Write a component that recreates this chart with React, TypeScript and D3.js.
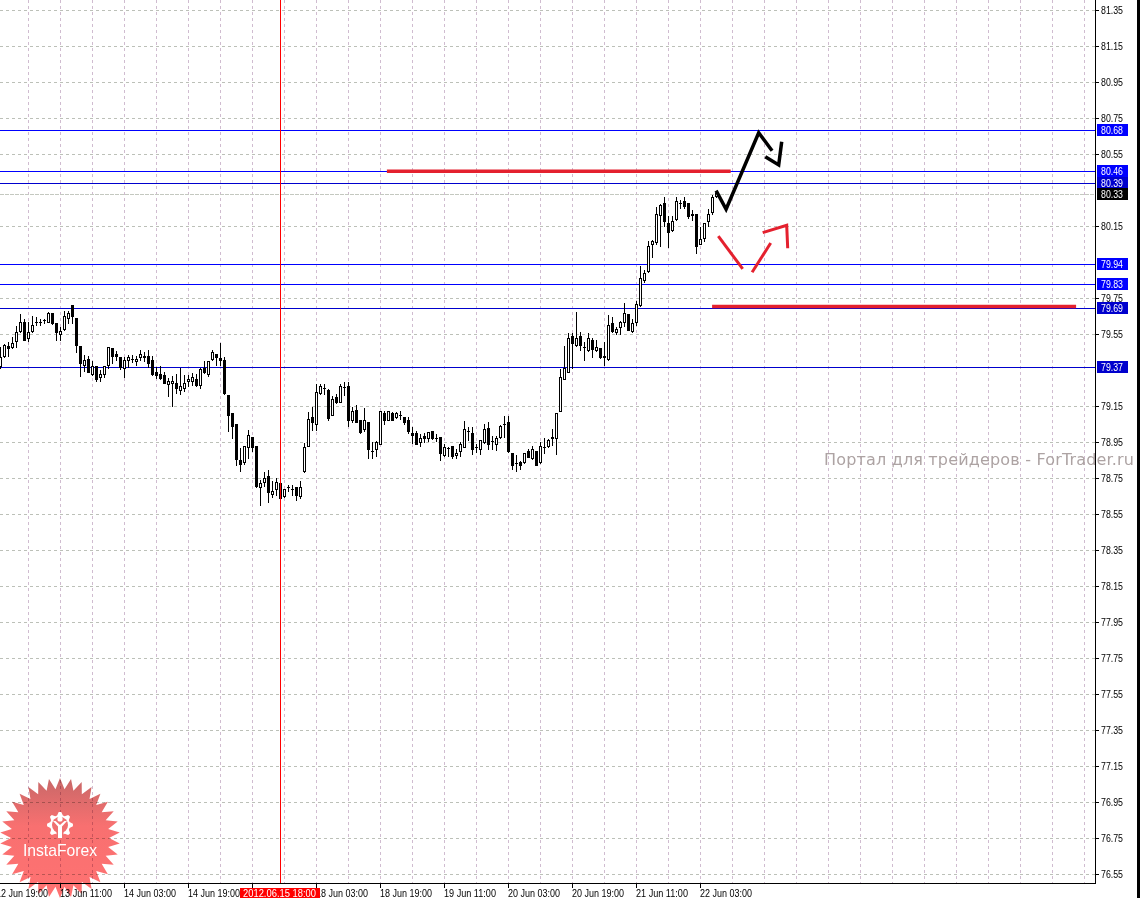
import React from "react";
import * as d3 from "d3";

// hourly bars, oldest first
const opens = [
  79.363, 79.419, 79.474, 79.470, 79.502, 79.556, 79.609, 79.519, 79.558, 79.606,
  79.609, 79.620, 79.607, 79.656, 79.604, 79.541, 79.569, 79.630, 79.704, 79.632,
  79.474, 79.369, 79.404, 79.319, 79.363, 79.304, 79.319, 79.367, 79.465, 79.433,
  79.415, 79.354, 79.400, 79.402, 79.393, 79.415, 79.422, 79.419, 79.395, 79.333,
  79.322, 79.313, 79.263, 79.269, 79.270, 79.230, 79.241, 79.280, 79.282, 79.293,
  79.256, 79.354, 79.317, 79.404, 79.432, 79.406, 79.395, 79.204, 79.104, 79.043,
  78.844, 78.830, 78.915, 78.970, 78.922, 78.693, 78.719, 78.754, 78.652, 78.681,
  78.715, 78.641, 78.691, 78.683, 78.693, 78.641, 78.781, 78.918, 79.081, 79.040,
  79.213, 79.244, 79.233, 79.090, 79.192, 79.165, 79.246, 79.255, 79.066, 79.120,
  79.066, 79.013, 79.055, 78.892, 78.902, 78.931, 79.103, 79.066, 79.103, 79.081,
  79.094, 79.081, 79.064, 78.992, 78.992, 78.940, 78.974, 78.966, 79.003, 78.963,
  78.972, 78.870, 78.911, 78.920, 78.868, 78.889, 78.916, 79.002, 78.992, 78.913,
  78.902, 78.940, 79.020, 78.946, 78.931, 78.968, 79.042, 79.053, 78.883, 78.824,
  78.831, 78.829, 78.892, 78.853, 78.894, 78.831, 78.916, 78.918, 78.970, 78.964,
  79.114, 79.292, 79.333, 79.533, 79.479, 79.533, 79.468, 79.455, 79.511, 79.453,
  79.466, 79.422, 79.403, 79.603, 79.552, 79.581, 79.609, 79.655, 79.557, 79.609,
  79.702, 79.839, 79.890, 80.040, 80.051, 80.201, 80.270, 80.159, 80.118, 80.179,
  80.270, 80.283, 80.270, 80.209, 80.209, 80.040, 80.077, 80.168, 80.220, 80.309,
];
const highs = [
  79.474, 79.493, 79.502, 79.533, 79.591, 79.656, 79.632, 79.613, 79.645, 79.641,
  79.632, 79.632, 79.672, 79.656, 79.604, 79.585, 79.674, 79.674, 79.706, 79.632,
  79.474, 79.433, 79.424, 79.395, 79.367, 79.345, 79.367, 79.470, 79.465, 79.452,
  79.419, 79.419, 79.432, 79.432, 79.424, 79.459, 79.446, 79.456, 79.424, 79.363,
  79.367, 79.335, 79.304, 79.315, 79.326, 79.359, 79.322, 79.322, 79.330, 79.326,
  79.359, 79.395, 79.395, 79.456, 79.432, 79.496, 79.419, 79.206, 79.104, 79.043,
  78.915, 78.922, 79.015, 78.970, 78.922, 78.737, 78.780, 78.789, 78.730, 78.746,
  78.719, 78.687, 78.706, 78.711, 78.696, 78.733, 78.941, 79.113, 79.140, 79.270,
  79.270, 79.270, 79.242, 79.205, 79.214, 79.270, 79.279, 79.283, 79.144, 79.153,
  79.066, 79.137, 79.055, 78.946, 78.952, 79.122, 79.118, 79.116, 79.113, 79.116,
  79.118, 79.085, 79.085, 79.029, 79.011, 78.992, 78.996, 79.002, 79.007, 78.992,
  78.972, 78.937, 78.918, 78.922, 78.909, 78.946, 79.066, 79.033, 79.029, 78.937,
  78.955, 79.048, 79.057, 78.983, 78.983, 79.039, 79.094, 79.094, 78.885, 78.877,
  78.844, 78.885, 78.909, 78.927, 78.900, 78.946, 78.970, 78.964, 79.020, 79.103,
  79.353, 79.483, 79.552, 79.555, 79.672, 79.557, 79.502, 79.553, 79.524, 79.515,
  79.466, 79.502, 79.655, 79.640, 79.585, 79.622, 79.720, 79.659, 79.631, 79.733,
  79.927, 79.903, 80.063, 80.070, 80.251, 80.270, 80.311, 80.205, 80.205, 80.311,
  80.292, 80.311, 80.274, 80.237, 80.209, 80.140, 80.163, 80.242, 80.322, 80.344,
];
const lows = [
  79.354, 79.413, 79.419, 79.465, 79.469, 79.552, 79.507, 79.502, 79.552, 79.591,
  79.591, 79.604, 79.606, 79.600, 79.507, 79.507, 79.563, 79.604, 79.604, 79.441,
  79.311, 79.335, 79.330, 79.315, 79.280, 79.280, 79.302, 79.352, 79.378, 79.400,
  79.348, 79.302, 79.359, 79.387, 79.367, 79.396, 79.394, 79.359, 79.315, 79.298,
  79.294, 79.267, 79.200, 79.141, 79.215, 79.211, 79.224, 79.252, 79.256, 79.252,
  79.241, 79.326, 79.311, 79.400, 79.367, 79.367, 79.211, 79.002, 78.965, 78.813,
  78.780, 78.817, 78.854, 78.891, 78.693, 78.589, 78.696, 78.611, 78.637, 78.650,
  78.626, 78.637, 78.672, 78.646, 78.619, 78.630, 78.777, 78.918, 79.011, 79.011,
  79.211, 79.211, 79.066, 79.089, 79.159, 79.163, 79.205, 79.029, 79.055, 79.052,
  78.989, 79.002, 78.852, 78.852, 78.866, 78.928, 79.039, 79.063, 79.063, 79.076,
  79.072, 79.044, 78.992, 78.937, 78.928, 78.918, 78.940, 78.948, 78.959, 78.946,
  78.840, 78.863, 78.863, 78.853, 78.853, 78.863, 78.913, 78.955, 78.877, 78.885,
  78.877, 78.937, 78.903, 78.905, 78.900, 78.964, 78.970, 78.885, 78.789, 78.779,
  78.789, 78.826, 78.859, 78.850, 78.813, 78.826, 78.881, 78.914, 78.927, 78.877,
  79.113, 79.289, 79.329, 79.353, 79.474, 79.455, 79.400, 79.446, 79.414, 79.446,
  79.409, 79.368, 79.400, 79.552, 79.544, 79.539, 79.585, 79.563, 79.553, 79.589,
  79.700, 79.829, 79.885, 79.968, 80.039, 80.029, 80.140, 80.026, 80.116, 80.174,
  80.242, 80.242, 80.187, 80.177, 79.989, 80.039, 80.057, 80.140, 80.207, 80.303,
];
const closes = [
  79.415, 79.480, 79.465, 79.493, 79.554, 79.609, 79.507, 79.554, 79.593, 79.606,
  79.609, 79.620, 79.659, 79.604, 79.552, 79.561, 79.643, 79.659, 79.641, 79.480,
  79.380, 79.395, 79.330, 79.363, 79.289, 79.317, 79.363, 79.470, 79.422, 79.419,
  79.357, 79.395, 79.415, 79.402, 79.404, 79.432, 79.415, 79.378, 79.317, 79.313,
  79.300, 79.267, 79.282, 79.282, 79.241, 79.254, 79.270, 79.294, 79.304, 79.261,
  79.345, 79.330, 79.393, 79.443, 79.413, 79.400, 79.213, 79.091, 79.030, 78.850,
  78.820, 78.919, 78.982, 78.913, 78.700, 78.715, 78.743, 78.665, 78.670, 78.720,
  78.630, 78.681, 78.691, 78.683, 78.650, 78.693, 78.915, 79.070, 79.052, 79.220,
  79.253, 79.244, 79.077, 79.181, 79.166, 79.252, 79.246, 79.063, 79.114, 79.052,
  79.000, 79.064, 78.902, 78.892, 78.942, 79.116, 79.066, 79.114, 79.066, 79.103,
  79.094, 79.052, 79.002, 78.979, 78.929, 78.964, 78.964, 78.996, 78.966, 78.963,
  78.879, 78.916, 78.911, 78.863, 78.881, 78.931, 79.014, 79.002, 78.902, 78.913,
  78.953, 79.014, 78.931, 78.946, 78.964, 79.031, 79.042, 78.889, 78.815, 78.824,
  78.816, 78.881, 78.861, 78.905, 78.816, 78.918, 78.916, 78.955, 78.963, 79.103,
  79.303, 79.353, 79.520, 79.490, 79.518, 79.479, 79.468, 79.520, 79.461, 79.470,
  79.413, 79.413, 79.594, 79.557, 79.570, 79.607, 79.659, 79.566, 79.603, 79.709,
  79.853, 79.881, 80.033, 80.059, 80.209, 80.259, 80.168, 80.107, 80.170, 80.283,
  80.270, 80.255, 80.198, 80.201, 80.029, 80.070, 80.159, 80.209, 80.303, 80.326,
];

// 80.35, 79.95 and 79.35 do not show on the reference axis
const priceTicks = [
  81.35, 81.15, 80.95, 80.75, 80.55, 80.15, 79.75, 79.55, 79.15,
  78.95, 78.75, 78.55, 78.35, 78.15, 77.95, 77.75, 77.55, 77.35, 77.15, 76.95, 76.75, 76.55,
];

// horizontal levels with their price-box colour
const levelPrices = [80.683, 80.456, 80.389, 80.328, 79.939, 79.828, 79.694, 79.367];
const levelColors = ["#0000ff", "#0000ff", "#0000cd", "#000000", "#0000ff", "#0000ff", "#0000cd", "#0000cd"];

const timeBars = [-1, 15, 31, 47, 79, 95, 111, 127, 143, 159, 175];
const timeLabels = [
  "12 Jun 19:00", "13 Jun 11:00", "14 Jun 03:00", "14 Jun 19:00", "18 Jun 03:00", "18 Jun 19:00",
  "19 Jun 11:00", "20 Jun 03:00", "20 Jun 19:00", "21 Jun 11:00", "22 Jun 03:00",
];
const cursorBar = 70;
const cursorLabel = "2012.06.15 18:00";

// hand drawn forecast strokes as [bar, price]
const blackStrokes = [
  [[178.9, 80.349], [181.4, 80.246], [189.55, 80.671], [192.9, 80.571]],
  [[191.2, 80.538], [194.55, 80.492], [195.3, 80.621]],
];
const redStrokes = [
  [[179.45, 80.097], [185.55, 79.914]],
  [[187.9, 79.896], [192.55, 80.058]],
  [[190.55, 80.116], [196.55, 80.157], [196.8, 80.029]],
];
const redLevels = [
  [96.6, 182.55, 80.457],
  [177.9, 268.9, 79.706],
];

const WIDTH = 1140;
const HEIGHT = 898;
const AXIS_X = 1095;
const AXIS_Y = 883;
const FONT = "'Liberation Sans', sans-serif";
const LABEL_SIZE = 10.5;

const x = d3.scaleLinear().domain([0, 10]).range([0.5, 40.5]);
const y = d3.scaleLinear().domain([81.35, 76.55]).range([10.5, 874.5]);

// the bars were read 1.5px off the tick calibration
const BAR_SHIFT = 0.0083;
const snap = (v: number) => Math.floor(v) + 0.5;
const barY = (p: number) => snap(y(p + BAR_SHIFT));

const gridBars = d3.range(7, 272, 8);
const strokeLine = d3
  .line<number[]>()
  .x((d) => x(d[0]))
  .y((d) => y(d[1]))
  .curve(d3.curveLinear);

// badge outline
const BADGE_CX = 60;
const BADGE_CY = 838;
const badgeSpikes = 34;
const badgePoints = d3.range(badgeSpikes * 2).map((i) => [
  (i * Math.PI) / badgeSpikes,
  i % 2 === 0 ? 60 : 49,
]);
const badgePath = d3.lineRadial<number[]>().angle((d) => d[0]).radius((d) => d[1]).curve(d3.curveLinearClosed)(badgePoints as any) as string;

const gearTeeth = 8;
const gearPoints = d3.range(gearTeeth * 4).map((i) => {
  const a = (i * Math.PI * 2) / (gearTeeth * 4) - 0.1;
  return [a, i % 4 < 2 ? 13 : 10];
});
const gearPath = d3.lineRadial<number[]>().angle((d) => d[0]).radius((d) => d[1]).curve(d3.curveLinearClosed)(gearPoints as any) as string;

export default function App() {
  return (
    <svg
      width={WIDTH}
      height={HEIGHT}
      viewBox={`0 0 ${WIDTH} ${HEIGHT}`}
      style={{ position: "absolute", left: 0, top: 0, background: "#fff", display: "block" }}
    >
      <defs>
        <linearGradient id="badgeFill" x1="0" y1="0" x2="0" y2="1">
          <stop offset="0" stopColor="#c86868" />
          <stop offset="0.4" stopColor="#f87070" />
          <stop offset="1" stopColor="#ff7272" />
        </linearGradient>
      </defs>

      {/* grid */}
      <g shapeRendering="crispEdges" strokeWidth={1}>
        {gridBars.map((b) => (
          <line key={b} x1={x(b)} x2={x(b)} y1={0} y2={AXIS_Y} stroke="#d0bcd0" strokeDasharray="3 3" />
        ))}
        {priceTicks.map((p) => (
          <line key={p} x1={0} x2={AXIS_X} y1={snap(y(p))} y2={snap(y(p))} stroke="#bcc0b8" strokeDasharray="3 3" />
        ))}
      </g>

      {/* levels */}
      <g shapeRendering="crispEdges">
        {levelPrices.map((p, i) => (
          <line
            key={p}
            x1={0}
            x2={AXIS_X}
            y1={snap(y(p))}
            y2={snap(y(p))}
            stroke={levelColors[i] === "#000000" ? "#c4c8c0" : levelColors[i]}
            strokeDasharray={levelColors[i] === "#000000" ? "4 1" : undefined}
          />
        ))}
      </g>

      {/* candles */}
      <g shapeRendering="crispEdges" stroke="#000" strokeWidth={1}>
        {opens.map((o, i) => {
          const cx = x(i);
          const c = closes[i];
          const top = barY(Math.max(o, c));
          const bot = barY(Math.min(o, c));
          return (
            <g key={i}>
              <line x1={cx} x2={cx} y1={barY(highs[i])} y2={barY(lows[i])} />
              {top === bot ? (
                <line x1={cx - 1.5} x2={cx + 1.5} y1={top} y2={top} />
              ) : (
                <rect x={cx - 1} y={top} width={2} height={bot - top} fill={c < o ? "#000" : "#fff"} />
              )}
            </g>
          );
        })}
      </g>

      {/* cursor line */}
      <line x1={x(cursorBar)} x2={x(cursorBar)} y1={0} y2={AXIS_Y} stroke="#ff0000" shapeRendering="crispEdges" />

      {/* forecast strokes */}
      <g fill="none" strokeLinejoin="miter" strokeLinecap="butt">
        {redLevels.map((d, i) => (
          <line key={i} x1={x(d[0])} x2={x(d[1])} y1={y(d[2])} y2={y(d[2])} stroke="#e4202e" strokeWidth={3.5} />
        ))}
        {redStrokes.map((s, i) => (
          <path key={i} d={strokeLine(s as number[][]) as string} stroke="#e4202e" strokeWidth={3} />
        ))}
        {blackStrokes.map((s, i) => (
          <path key={i} d={strokeLine(s as number[][]) as string} stroke="#000" strokeWidth={3.5} />
        ))}
      </g>

      {/* axes */}
      <g shapeRendering="crispEdges" stroke="#000">
        <line x1={AXIS_X + 0.5} x2={AXIS_X + 0.5} y1={0} y2={AXIS_Y + 1} />
        <line x1={0} x2={AXIS_X + 1} y1={AXIS_Y + 0.5} y2={AXIS_Y + 0.5} />
        {priceTicks.map((p) => (
          <line key={p} x1={AXIS_X} x2={AXIS_X + 4} y1={snap(y(p))} y2={snap(y(p))} />
        ))}
        {timeBars.concat([63]).map((b) => (
          <line key={b} x1={x(b) - 0.5} x2={x(b) - 0.5} y1={AXIS_Y} y2={AXIS_Y + 5} />
        ))}
      </g>
      <rect x={1137} y={0} width={3} height={HEIGHT} fill="#000" />

      <g fontFamily={FONT} fontSize={LABEL_SIZE} fill="#000">
        {priceTicks.map((p) => (
          <text key={p} x={1101} y={snap(y(p))} dy="0.36em" textLength={22} lengthAdjust="spacingAndGlyphs">
            {p.toFixed(2)}
          </text>
        ))}
        {timeLabels.map((t, i) => (
          <text key={t} x={x(timeBars[i]) - 0.5} y={896.5} textLength={52} lengthAdjust="spacingAndGlyphs">
            {t}
          </text>
        ))}
      </g>

      {/* price boxes */}
      {levelPrices.map((p, i) => (
        <g key={p}>
          <rect x={1097} y={Math.floor(y(p)) - 6} width={31} height={12} fill={levelColors[i]} shapeRendering="crispEdges" />
          <text x={1101} y={snap(y(p))} dy="0.36em" fontFamily={FONT} fontSize={LABEL_SIZE} fill="#fff" textLength={22} lengthAdjust="spacingAndGlyphs">
            {p.toFixed(2)}
          </text>
        </g>
      ))}

      {/* cursor time box */}
      <rect x={240} y={888} width={80} height={10} fill="#ff0000" shapeRendering="crispEdges" />
      <text x={243} y={896.5} fontFamily={FONT} fontSize={LABEL_SIZE} fill="#fff" textLength={73} lengthAdjust="spacingAndGlyphs">
        {cursorLabel}
      </text>

      {/* watermark */}
      <text x={824} y={465} fontFamily="'DejaVu Sans', sans-serif" fontSize={16} fill="#ada3a3" textLength={310} lengthAdjust="spacing">
        Портал для трейдеров - ForTrader.ru
      </text>

      {/* badge */}
      <path
        d={badgePath}
        transform={`translate(${BADGE_CX},${BADGE_CY})`}
        fill="url(#badgeFill)"
        style={{ mixBlendMode: "multiply" }}
      />
      <g transform={`translate(${BADGE_CX},825)`}>
        <path d={gearPath} fill="#fff" />
        <circle r={8} fill="#f07070" />
        <rect x={-3.5} y={5} width={7} height={9} fill="#f07070" />
        <circle cy={-6} r={2.6} fill="#fff" />
        <path d="M-7,-4 L-2,1.5 L-2,13 L2,13 L2,1.5 L7,-4 L4.5,-4 L0,0 L-4.5,-4 Z" fill="#fff" />
      </g>
      <text x={60} y={856} textAnchor="middle" fontFamily={FONT} fontSize={15.7} fill="#fff">
        InstaForex
      </text>
    </svg>
  );
}
